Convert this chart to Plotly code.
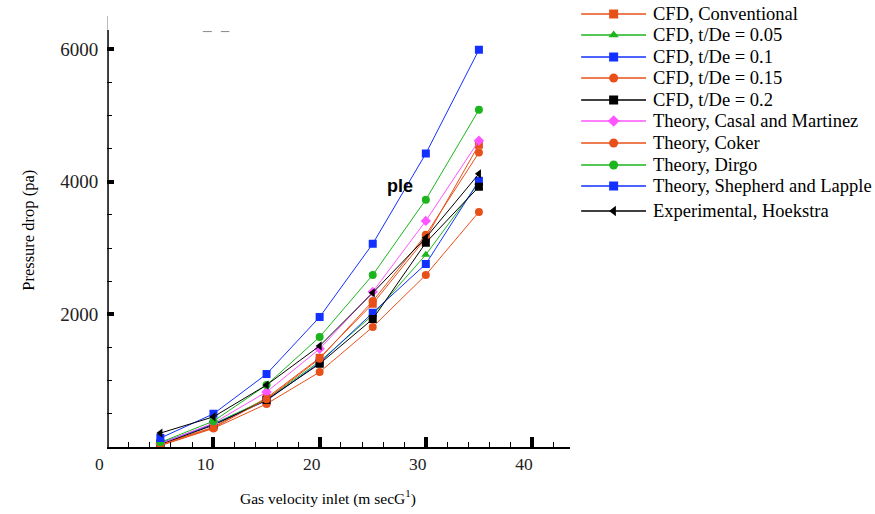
import plotly.graph_objects as go

velocity = [5, 10, 15, 20, 25, 30, 35]

cfd_conventional = [40, 300, 740, 1345, 2160, 3150, 4560]
cfd_t005 = [50, 350, 720, 1290, 1990, 2900, 3985]
cfd_t01 = [60, 340, 700, 1270, 2025, 2760, 4015]
cfd_t015 = [20, 280, 650, 1130, 1810, 2595, 3545]
cfd_t02 = [40, 330, 710, 1255, 1930, 3080, 3925]
theory_casal = [50, 360, 830, 1480, 2340, 3410, 4620]
theory_coker = [30, 290, 720, 1330, 2200, 3200, 4440]
theory_dirgo = [70, 390, 935, 1660, 2595, 3730, 5085]
theory_shepherd = [135, 500, 1100, 1960, 3065, 4425, 5990]
exp_hoekstra = [210, 455, 935, 1525, 2325, 3155, 4120]

series_names = [
    "CFD, Conventional", "CFD, t/De = 0.05", "CFD, t/De = 0.1", "CFD, t/De = 0.15",
    "CFD, t/De = 0.2", "Theory, Casal and Martinez", "Theory, Coker", "Theory, Dirgo",
    "Theory, Shepherd and Lapple", "Experimental, Hoekstra",
]
series_values = [
    cfd_conventional, cfd_t005, cfd_t01, cfd_t015, cfd_t02,
    theory_casal, theory_coker, theory_dirgo, theory_shepherd, exp_hoekstra,
]
series_colors = [
    "#E8501A", "#1DB51D", "#1230FF", "#E8501A", "#000000",
    "#FF55FF", "#E8501A", "#1DB51D", "#1230FF", "#000000",
]
series_symbols = [
    "square", "triangle-up", "square", "circle", "square",
    "diamond", "circle", "circle", "square", "triangle-left",
]
# legend row centres (pixels from top of the figure)
legend_rows = [14, 35, 57, 78, 100, 121, 143, 165, 186, 211]

W, H = 875, 514
PLOT_L, PLOT_R, PLOT_T, PLOT_B = 96.6, 566, 16, 447
serif = "Liberation Serif, Times New Roman, serif"

fig = go.Figure()
for name, vals, color, sym in zip(series_names, series_values, series_colors, series_symbols):
    fig.add_trace(go.Scatter(
        x=velocity, y=vals, name=name, mode="lines+markers",
        line=dict(color=color, width=1),
        marker=dict(color=color, symbol=sym, size=8),
        xaxis="x", yaxis="y", showlegend=False,
    ))

# legend samples drawn on a hidden helper axis pair
annotations = []
for name, color, sym, row in zip(series_names, series_colors, series_symbols, legend_rows):
    fig.add_trace(go.Scatter(
        x=[0, 1], y=[row, row], mode="lines", line=dict(color=color, width=1.5),
        xaxis="x2", yaxis="y2", showlegend=False, hoverinfo="skip",
    ))
    fig.add_trace(go.Scatter(
        x=[0.5], y=[row], mode="markers", marker=dict(color=color, symbol=sym, size=9),
        xaxis="x2", yaxis="y2", showlegend=False, hoverinfo="skip",
    ))
    annotations.append(dict(
        text=name, xref="paper", yref="paper", x=648 / W, y=1 - row / H,
        xanchor="left", yanchor="middle", showarrow=False,
        font=dict(family=serif, size=18.5, color="black"),
    ))

annotations += [
    dict(text="Gas velocity inlet (m secG<sup>1</sup>)", xref="paper", yref="paper",
         x=320 / W, y=1 - 497 / H, xanchor="center", yanchor="middle",
         showarrow=False, font=dict(family=serif, size=15.5, color="black")),
    dict(text="Pressure drop (pa)", xref="paper", yref="paper",
         x=17 / W, y=1 - 230 / H, xanchor="center", yanchor="middle",
         textangle=-90, showarrow=False, font=dict(family=serif, size=16.5, color="black")),
    dict(text="<b>ple</b>", xref="x", yref="y", x=27.6, y=3930,
         showarrow=False, font=dict(family="Liberation Sans, Arial, sans-serif", size=18, color="black")),
]

fig.update_layout(
    width=W, height=H,
    margin=dict(l=0, r=0, t=0, b=0),
    plot_bgcolor="white", paper_bgcolor="white",
    font=dict(family=serif, size=17, color="black"),
    showlegend=False,
    xaxis=dict(
        domain=[PLOT_L / W, PLOT_R / W], anchor="y",
        range=[0, 43.6], showgrid=False, zeroline=False,
        showline=True, linecolor="black", linewidth=2,
        tickmode="array", tickvals=[0, 10, 20, 30, 40],
        ticks="inside", ticklen=10, tickwidth=4, tickcolor="black",
        minor=dict(dtick=2, ticks="inside", ticklen=5, tickwidth=1, tickcolor="black"),
        tickfont=dict(family=serif, size=17.5, color="#222222"),
        ticklabelshift=-8,
    ),
    yaxis=dict(
        domain=[1 - PLOT_B / H, 1 - PLOT_T / H], anchor="x",
        range=[0, 6500], showgrid=False, zeroline=False,
        showline=False,
        tickmode="array", tickvals=[2000, 4000, 6000],
        ticks="inside", ticklen=7, tickwidth=4, tickcolor="black",
        minor=dict(tickvals=[500, 1000, 1500, 2500, 3000, 3500, 4500, 5000, 5500],
                   ticks="inside", ticklen=5, tickwidth=1, tickcolor="black"),
        tickfont=dict(family=serif, size=19, color="#222222"),
        ticklabelstandoff=8,
    ),
    xaxis2=dict(domain=[577 / W, 643 / W], anchor="y2", range=[0, 1], visible=False,
                fixedrange=True),
    yaxis2=dict(domain=[0, 1], anchor="x2", range=[H, 0], visible=False, fixedrange=True),
    shapes=[
        dict(type="line", xref="x", yref="y", x0=0, x1=0, y0=0, y1=6290,
             line=dict(color="black", width=3)),
        dict(type="line", xref="x", yref="y", x0=0, x1=0, y0=6290, y1=6500,
             line=dict(color="#888888", width=1)),
        dict(type="line", xref="x", yref="y", x0=9.0, x1=11.5, y0=6265, y1=6265,
             line=dict(color="#888888", width=1, dash="dash")),
    ],
    annotations=annotations,
)

fig.write_html("out.html")
